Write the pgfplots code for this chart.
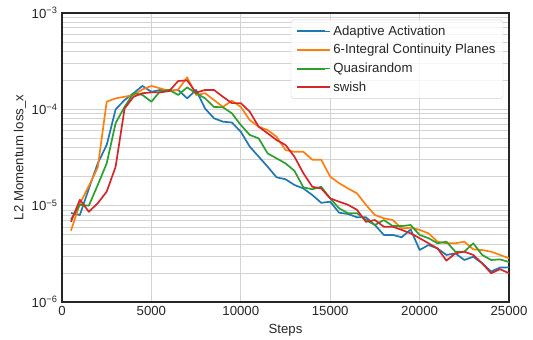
\documentclass[border=0pt]{standalone}
\usepackage{fontspec}
\setmainfont{Liberation Sans}
\usepackage{pgfplots}
\usepackage{pgfplotstable}
\pgfplotsset{compat=1.18}
\definecolor{tblue}{HTML}{1F77B4}
\definecolor{torange}{HTML}{FF7F0E}
\definecolor{tgreen}{HTML}{2CA02C}
\definecolor{tred}{HTML}{D62728}
\definecolor{gridc}{HTML}{D3D3D3}
\definecolor{txt}{HTML}{262626}
\pgfplotstableread{
s blue orange green red
500 8.4e-6 5.5e-6 7.2e-6 6.8e-6
1000 8.0e-6 1.05e-5 1.02e-5 1.15e-5
1500 1.5e-5 1.6e-5 1.0e-5 8.65e-6
2000 2.75e-5 2.5e-5 1.64e-5 1.06e-5
2500 4.27e-5 1.2e-4 2.75e-5 1.4e-5
3000 1.0e-4 1.3e-4 7.2e-5 2.54e-5
3500 1.25e-4 1.35e-4 1.06e-4 1.02e-4
4000 1.47e-4 1.41e-4 1.47e-4 1.35e-4
4500 1.75e-4 1.61e-4 1.41e-4 1.47e-4
5000 1.52e-4 1.75e-4 1.2e-4 1.5e-4
5500 1.59e-4 1.65e-4 1.55e-4 1.5e-4
6000 1.55e-4 1.55e-4 1.59e-4 1.55e-4
6500 1.59e-4 1.6e-4 1.41e-4 1.97e-4
7000 1.3e-4 2.15e-4 1.69e-4 2.0e-4
7500 1.59e-4 1.41e-4 1.47e-4 1.49e-4
8000 1.02e-4 1.47e-4 1.3e-4 1.59e-4
8500 8.07e-5 1.25e-4 1.06e-4 1.59e-4
9000 7.45e-5 1.06e-4 1.05e-4 1.35e-4
9500 7.3e-5 1.23e-4 9.1e-5 1.16e-4
10000 5.86e-5 1.06e-4 6.88e-5 1.16e-4
10500 4.1e-5 7.74e-5 5.42e-5 9.46e-5
11000 3.23e-5 6.6e-5 5.0e-5 6.6e-5
11500 2.54e-5 6.1e-5 3.49e-5 5.64e-5
12000 1.97e-5 5.2e-5 3.1e-5 4.8e-5
12500 1.88e-5 3.78e-5 2.75e-5 4.27e-5
13000 1.64e-5 3.63e-5 2.3e-5 3.23e-5
13500 1.51e-5 3.63e-5 1.55e-5 2.17e-5
14000 1.29e-5 3.0e-5 1.48e-5 1.57e-5
14500 1.07e-5 2.99e-5 1.57e-5 1.51e-5
15000 1.1e-5 2.0e-5 1.19e-5 1.19e-5
15500 8.45e-6 1.71e-5 9.38e-6 1.1e-5
16000 8.2e-6 1.51e-5 8.35e-6 1.02e-5
16500 7.57e-6 1.34e-5 8.35e-6 9.05e-6
17000 7.57e-6 1.02e-5 7.1e-6 6.8e-6
17500 6.3e-6 8.0e-6 6.3e-6 7.1e-6
18000 4.97e-6 7.4e-6 7.1e-6 6.05e-6
18500 4.97e-6 7.1e-6 6.14e-6 6.05e-6
19000 4.7e-6 5.8e-6 6.14e-6 5.6e-6
19500 5.67e-6 5.9e-6 6.3e-6 5.16e-6
20000 3.47e-6 5.6e-6 4.97e-6 4.6e-6
20500 3.9e-6 5.16e-6 4.6e-6 4.07e-6
21000 3.6e-6 4.23e-6 4.07e-6 3.6e-6
21500 3.08e-6 4.07e-6 4.23e-6 2.69e-6
22000 3.2e-6 4.07e-6 3.33e-6 3.2e-6
22500 2.73e-6 4.23e-6 3.33e-6 3.33e-6
23000 2.95e-6 3.52e-6 4.07e-6 3.08e-6
23500 2.52e-6 3.46e-6 3.08e-6 2.52e-6
24000 2.07e-6 3.33e-6 2.73e-6 1.99e-6
24500 2.28e-6 3.08e-6 2.77e-6 2.19e-6
25000 2.29e-6 2.84e-6 2.6e-6 1.99e-6
}\data
\begin{document}
\begin{tikzpicture}
\useasboundingbox (-62pt,-38pt) rectangle (471pt,302pt);
\begin{axis}[
  scale only axis,
  width=447pt, height=289pt,
  ymode=log,
  xmin=0, xmax=25000, ymin=1e-6, ymax=1e-3,
  xtick={0,5000,10000,15000,20000,25000},
  xticklabels={0,5000,10000,15000,20000,25000},
  ytick={1e-6,1e-5,1e-4,1e-3},
  yticklabels={10\textsuperscript{−6},10\textsuperscript{−5},10\textsuperscript{−4},10\textsuperscript{−3}},
  scaled x ticks=false,
  major tick length=0pt, minor tick length=0pt,
  grid=major,
  yminorgrids=true,
  major grid style={gridc, line width=0.9pt},
  minor grid style={gridc, line width=0.9pt},
  axis line style={txt, line width=1.25pt},
  tick label style={font=\fontsize{13.2}{15}\selectfont, text=txt},
  xticklabel style={yshift=-1pt},
  yticklabel style={xshift=-1pt},
  xlabel={Steps}, ylabel={L2 Momentum loss\_x},
  label style={font=\fontsize{13.2}{15}\selectfont, text=txt},
  xlabel style={yshift=-2pt},
  ylabel style={yshift=-1pt},
  legend style={at={(0.987,0.977)}, anchor=north east, draw=gridc,
    rounded corners=3pt, fill=white, fill opacity=0.8, text opacity=1,
    font=\fontsize{13.2}{15}\selectfont, text=txt,
    inner xsep=5.5pt, inner ysep=4pt, row sep=3.5pt},
  legend cell align=left,
  legend image code/.code={\draw[#1, line width=2pt, rounded corners=0pt] (0pt,0pt) -- (28pt,0pt); \path (0pt,0pt) -- (33pt,0pt);},
  every axis plot/.append style={line width=1.7pt, line join=round},
]
\addplot[tblue] table[x=s, y=blue] {\data};
\addlegendentry{Adaptive Activation}
\addplot[torange] table[x=s, y=orange] {\data};
\addlegendentry{6-Integral Continuity Planes}
\addplot[tgreen] table[x=s, y=green] {\data};
\addlegendentry{Quasirandom}
\addplot[tred] table[x=s, y=red] {\data};
\addlegendentry{swish}
\end{axis}
\end{tikzpicture}
\end{document}
